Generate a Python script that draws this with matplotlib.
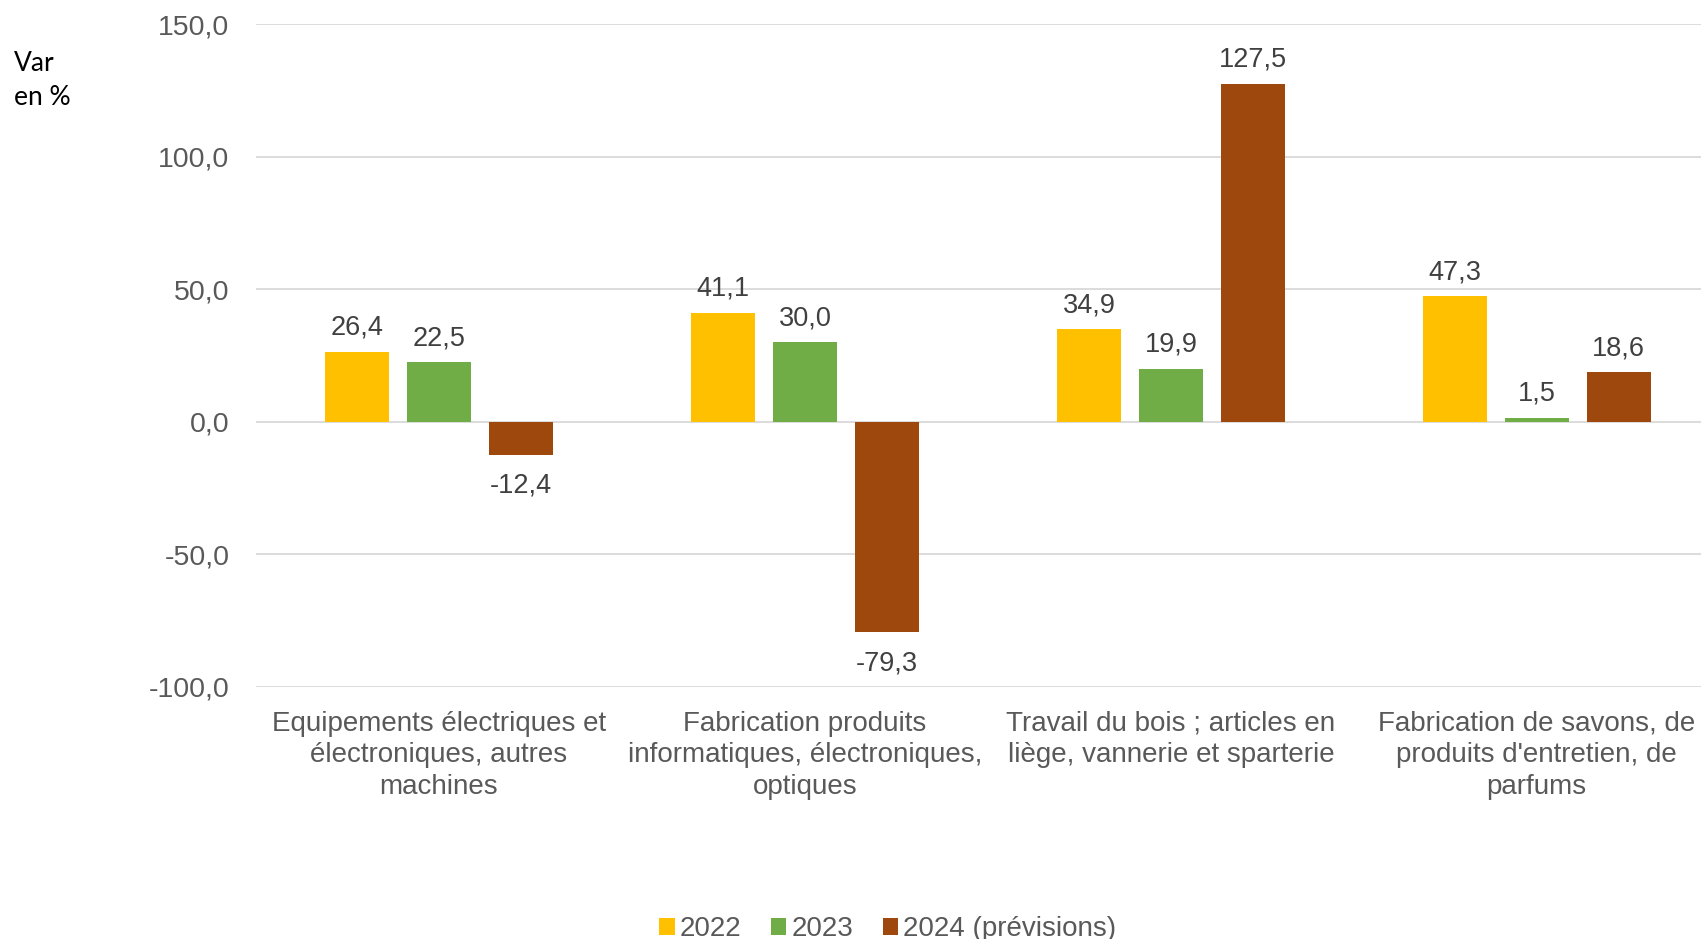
import numpy as np
import matplotlib
matplotlib.use("Agg")
import matplotlib.pyplot as plt
from matplotlib.patches import Patch

plt.rcParams['font.family'] = ['Liberation Sans', 'DejaVu Sans']

# data
categories = ["Equipements électriques et\nélectroniques, autres\nmachines",
              "Fabrication produits\ninformatiques, électroniques,\noptiques",
              "Travail du bois ; articles en\nliège, vannerie et sparterie",
              "Fabrication de savons, de\nproduits d'entretien, de\nparfums"]
series_names = ["2022", "2023", "2024 (prévisions)"]
v2022 = [26.4, 41.1, 34.9, 47.3]
v2023 = [22.5, 30.0, 19.9, 1.5]
v2024 = [-12.4, -79.3, 127.5, 18.6]
colors = ["#FFC000", "#70AD47", "#9E480E"]
yticks = [-100, -50, 0, 50, 100, 150]

txt = "#595959"
fig = plt.figure(figsize=(17.01, 9.39), dpi=100)
# axes runs a bit past the right edge, like the original
ax = fig.add_axes([0.1505, 0.2684, 0.8605, 0.706])

x = np.arange(len(categories))
w = 0.175
step = 0.224
for i, (vals, c) in enumerate(zip([v2022, v2023, v2024], colors)):
    pos = x + (i - 1) * step
    ax.bar(pos, vals, width=w, color=c, zorder=3)
    for p, v in zip(pos, vals):
        lab = f"{v:.1f}".replace(".", ",")
        if v >= 0:
            ax.annotate(lab, (p, v), xytext=(0, 8), textcoords="offset points",
                        ha="center", va="bottom", fontsize=19.5, color="#404040")
        else:
            ax.annotate(lab, (p, v), xytext=(0, -13), textcoords="offset points",
                        ha="center", va="top", fontsize=19.5, color="#404040")

ax.set_xlim(-0.5, len(categories) - 0.5)
ax.set_ylim(-100, 150)
ax.set_yticks(yticks)
ax.set_yticklabels([f"{t:.1f}".replace(".", ",") for t in yticks], fontsize=20.5, color=txt)
ax.yaxis.grid(True, color="#D9D9D9", linewidth=1.3, zorder=0)
ax.set_xticks(x)
ax.set_xticklabels(categories, fontsize=20, color=txt, linespacing=1.28)
ax.tick_params(axis="x", length=0, pad=17)
ax.tick_params(axis="y", length=0, pad=19)
for s in ax.spines.values():
    s.set_visible(False)

fig.text(0.008, 0.914, "Var\nen %", fontsize=19, color="black", family="Lato",
         va="center", ha="left", linespacing=1.45)

handles = [Patch(facecolor=c) for c in colors]
fig.legend(handles, series_names, loc="lower center", bbox_to_anchor=(0.522, -0.03),
           ncol=3, frameon=False, fontsize=20, handlelength=0.55, handleheight=0.55,
           handletextpad=0.2, columnspacing=1.05, labelcolor=txt)

fig.savefig("out.png", dpi=100)
